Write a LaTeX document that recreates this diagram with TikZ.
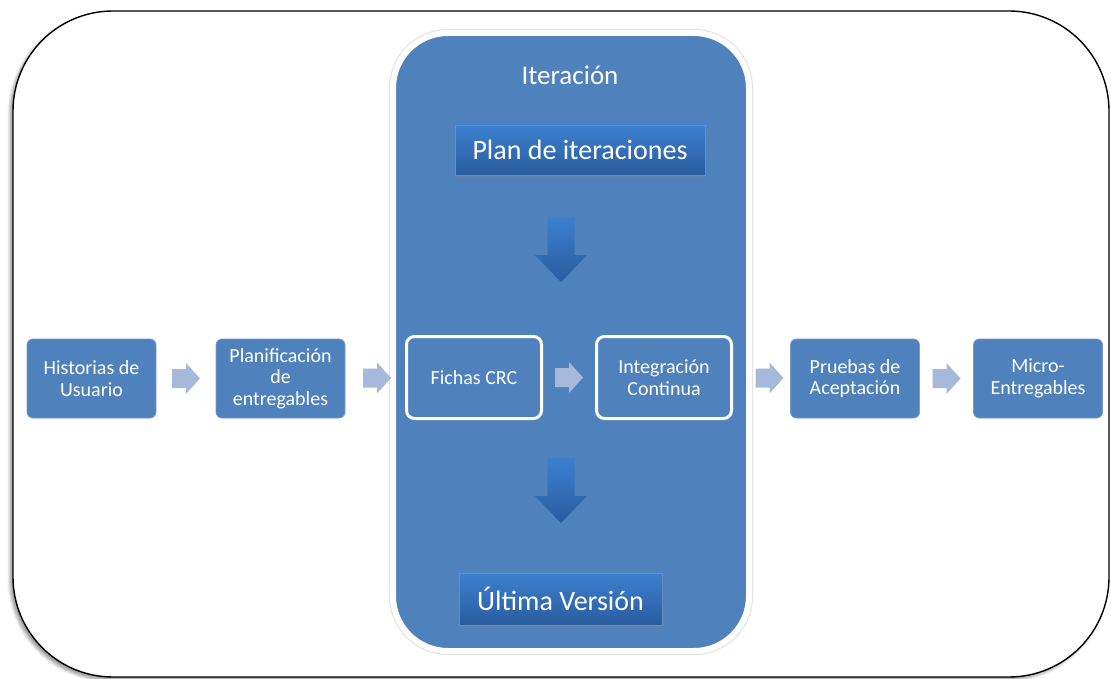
\documentclass[tikz,border=0pt]{standalone}
\usepackage{fontspec}
\setmainfont{Carlito}
\usetikzlibrary{shadows,shadows.blur,calc}
\definecolor{obl}{RGB}{79,129,189}
\definecolor{lightarr}{RGB}{167,185,219}
\definecolor{gtop}{RGB}{60,128,208}
\definecolor{gbot}{RGB}{42,92,158}
\begin{document}
\begin{tikzpicture}[x=1pt,y=-1pt,
  rowbox/.style={draw=obl!80!white, line width=0.8pt, fill=obl, rounded corners=6pt,
    minimum width=129pt, minimum height=79pt, text=white, align=center,
    font=\fontsize{20}{21.5}\selectfont, inner sep=2pt},
  innerbox/.style={draw=white, line width=3pt, fill=obl, rounded corners=8pt,
    minimum width=135pt, minimum height=82pt, text=white, align=center,
    font=\fontsize{20}{21.5}\selectfont, inner sep=2pt},
  gradbox/.style={top color=gtop, bottom color=gbot, draw=gbot!70!white, line width=0.4pt,
    text=white, font=\fontsize{28}{32}\selectfont, inner sep=0pt,
    drop shadow={shadow xshift=0pt, shadow yshift=-3pt, opacity=0.35}},
  rarrowfill/.style={fill=lightarr, draw=none},
  darrowfill/.style={top color=gtop, bottom color=gbot, draw=none},
]
\useasboundingbox (0,0) rectangle (1111,679);
% outer frame
\node[draw=black, line width=1.4pt, fill=white, rounded corners=100pt,
  minimum width=1096pt, minimum height=666pt, inner sep=0pt,
  blur shadow={shadow xshift=-3pt, shadow yshift=-3pt, shadow blur radius=3pt, shadow opacity=40}]
  (frame) at (561,344) {};
% iteration panel
\node[draw=black!12, line width=8pt, rounded corners=55pt, minimum width=356pt,
  minimum height=618pt, inner sep=0pt] (iterout) at (571,342) {};
\node[draw=white, line width=6pt, fill=obl, rounded corners=55pt, minimum width=356pt,
  minimum height=618pt, inner sep=0pt] (iter) at (571,342) {};
\node[text=white, font=\fontsize{27}{30}\selectfont] (ititle) at (570,75) {Iteración};
\node[gradbox, minimum width=250pt, minimum height=50pt] (plan) at (580,150) {Plan de iteraciones};
\node[gradbox, minimum width=203pt, minimum height=52pt] (ultima) at (560.5,599) {Última Versión};
% row boxes
\node[rowbox] (hist) at (91.5,378.5) {Historias de\\Usuario};
\node[rowbox] (planif) at (280.5,378.5) {Planificación\\de\\entregables};
\node[innerbox] (fichas) at (474,377.5) {Fichas CRC};
\node[innerbox] (integ) at (664,377.5) {Integración\\Continua};
\node[rowbox] (pruebas) at (855,378.5) {Pruebas de\\Aceptación};
\node[rowbox] (micro) at (1038,378.5) {Micro-\\Entregables};
% block arrow anchors
\coordinate (a1) at ($(hist.east)!0.5!(planif.west)$);
\coordinate (a2) at (377,378);
\coordinate (a3) at ($(fichas.east)!0.5!(integ.west)$);
\coordinate (a4) at (769.5,378);
\coordinate (a5) at ($(pruebas.east)!0.5!(micro.west)$);
\coordinate (d1) at (561,249.5);
\coordinate (d2) at (561,490.5);
% horizontal block arrows (length 28, head width 31, shaft 19)
\foreach \c in {a1,a2,a3,a4,a5}{
  \fill[rarrowfill] ($(\c)+(-14,-9.5)$) -- ($(\c)+(0,-9.5)$) -- ($(\c)+(0,-15.5)$)
    -- ($(\c)+(14,0)$) -- ($(\c)+(0,15.5)$) -- ($(\c)+(0,9.5)$) -- ($(\c)+(-14,9.5)$) -- cycle;
}
% vertical block arrows (length 65, head width 52, shaft 27)
\foreach \c in {d1,d2}{
  \shade[darrowfill] ($(\c)+(-13.5,-32.5)$) -- ($(\c)+(13.5,-32.5)$) -- ($(\c)+(13.5,5.5)$)
    -- ($(\c)+(26,5.5)$) -- ($(\c)+(0,32.5)$) -- ($(\c)+(-26,5.5)$) -- ($(\c)+(-13.5,5.5)$) -- cycle;
}
\end{tikzpicture}
\end{document}
